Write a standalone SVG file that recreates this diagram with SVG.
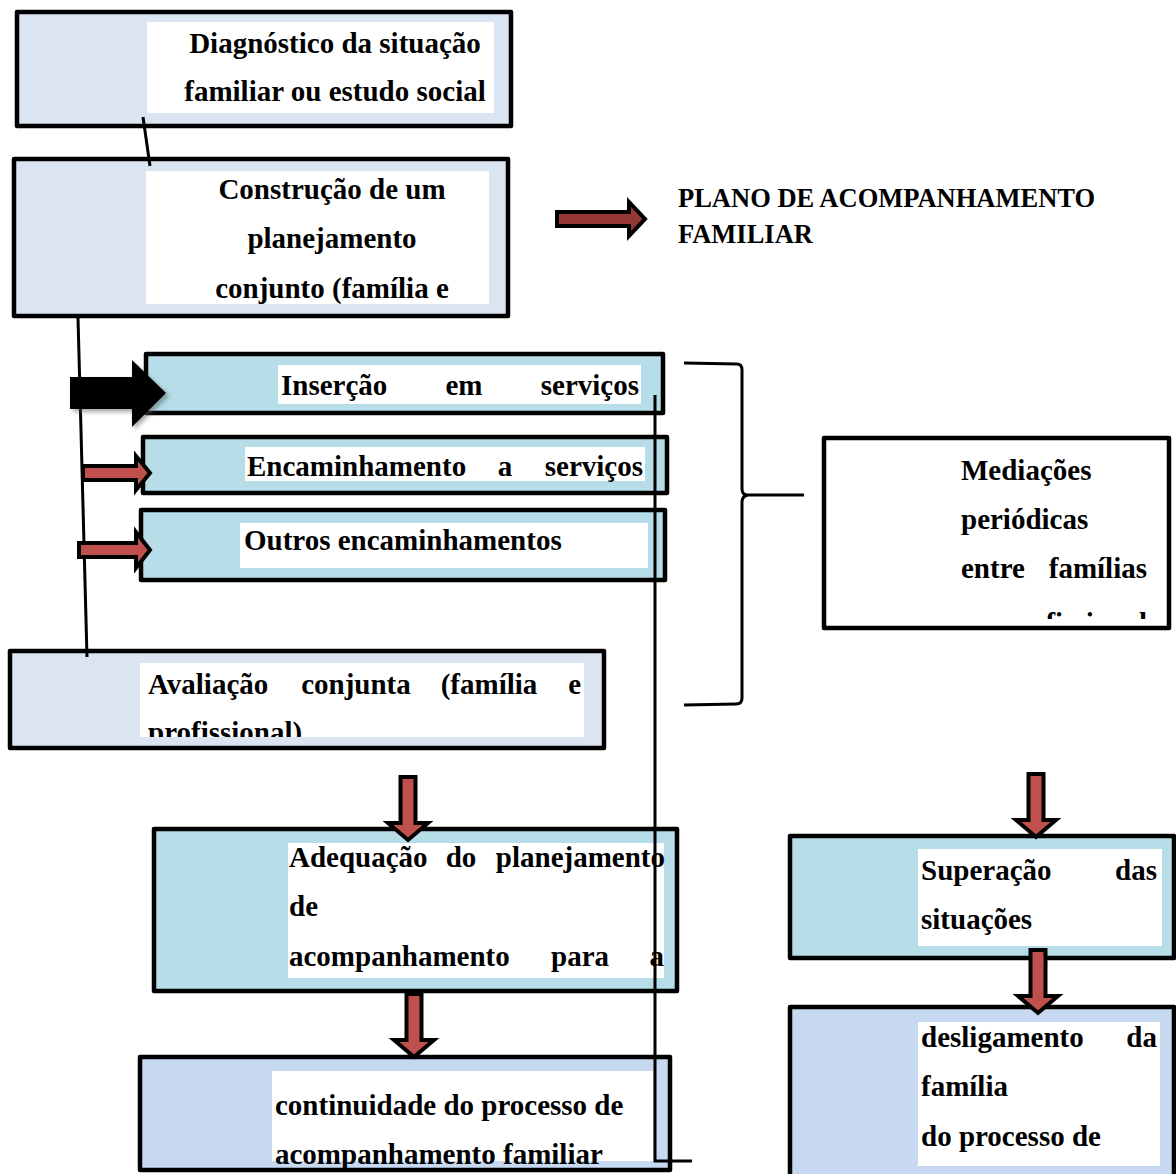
<svg xmlns="http://www.w3.org/2000/svg" width="1176" height="1174" viewBox="0 0 1176 1174">
<style>
.box{stroke:#000;stroke-width:4.5;stroke-linejoin:round}
.grey{fill:#dbe5f1}
.cyan{fill:#b6dde8}
.blue{fill:#c6d9f1}
.wh{fill:#fff}
.t{font-family:"Liberation Serif","Times New Roman",serif;font-weight:bold;font-size:29px;fill:#000}
.ln{stroke:#000;stroke-width:3;fill:none}
.ra{fill:#c0504d;stroke:#000;stroke-width:4;stroke-linejoin:miter}
</style>
<defs>
<filter id="sh" x="-20%" y="-20%" width="140%" height="140%"><feGaussianBlur stdDeviation="2"/></filter>
<clipPath id="cAv"><rect x="140" y="663" width="444" height="74"/></clipPath>
<clipPath id="cMed"><rect x="830" y="444" width="335" height="175"/></clipPath>
<path id="down" d="M-7.5,0 L7.5,0 L7.5,46 L20,46 L0,63 L-20,46 L-7.5,46 Z"/>
</defs>

<g id="n-diagnostico">
<rect class="box grey" x="17" y="12" width="494" height="114"/>
<rect class="wh" x="147" y="22" width="347" height="91"/>
<text class="t" x="335" y="53" text-anchor="middle">Diagnóstico da situação</text>
<text class="t" x="335" y="101" text-anchor="middle">familiar ou estudo social</text>
</g>

<g id="n-construcao">
<rect class="box grey" x="14" y="159" width="494" height="157"/>
<rect class="wh" x="146" y="171" width="343" height="133"/>
<text class="t" x="332" y="199" text-anchor="middle">Construção de um</text>
<text class="t" x="332" y="248" text-anchor="middle">planejamento</text>
<text class="t" x="332" y="298" text-anchor="middle">conjunto (família e</text>
</g>

<g id="n-plano">
<text class="t" style="font-size:26.5px" x="678" y="207">PLANO DE ACOMPANHAMENTO</text>
<text class="t" style="font-size:26.5px" x="678" y="243">FAMILIAR</text>
</g>

<g id="n-insercao">
<rect class="box cyan" x="146" y="354" width="517" height="59"/>
<rect class="wh" x="278" y="365" width="363" height="39"/>
<text class="t" y="395"><tspan x="281">Inserção</tspan><tspan x="464" text-anchor="middle">em</tspan><tspan x="639" text-anchor="end">serviços</tspan></text>
</g>

<g id="n-encaminhamento">
<rect class="box cyan" x="143" y="437" width="524" height="56"/>
<rect class="wh" x="245" y="447" width="400" height="34"/>
<text class="t" y="476"><tspan x="247">Encaminhamento</tspan><tspan x="505" text-anchor="middle">a</tspan><tspan x="643" text-anchor="end">serviços</tspan></text>
</g>

<g id="n-outros">
<rect class="box cyan" x="141" y="510" width="524" height="70"/>
<rect class="wh" x="240" y="523" width="408" height="45"/>
<text class="t" x="244" y="550">Outros encaminhamentos</text>
</g>

<g id="n-avaliacao">
<rect class="box grey" x="10" y="651" width="594" height="97"/>
<rect class="wh" x="140" y="663" width="444" height="74"/>
<g clip-path="url(#cAv)">
<text class="t" y="694"><tspan x="148">Avaliação</tspan><tspan x="356" text-anchor="middle">conjunta</tspan><tspan x="489" text-anchor="middle">(família</tspan><tspan x="581" text-anchor="end">e</tspan></text>
<text class="t" x="148" y="742">profissional)</text>
</g>
</g>

<g id="n-mediacoes">
<rect class="box wh" x="824" y="438" width="345" height="190"/>
<g clip-path="url(#cMed)">
<text class="t" x="961" y="480">Mediações</text>
<text class="t" x="961" y="529">periódicas</text>
<text class="t" y="578"><tspan x="961">entre</tspan><tspan x="1147" text-anchor="end">famílias</tspan></text>
<text class="t" y="633"><tspan x="961">e</tspan><tspan x="1147" text-anchor="end">profissional</tspan></text>
</g>
</g>

<g id="n-adequacao">
<rect class="box cyan" x="154" y="829" width="523" height="162"/>
<rect class="wh" x="288" y="843" width="376" height="135"/>
<text class="t" y="867"><tspan x="289">Adequação</tspan><tspan x="461" text-anchor="middle">do</tspan><tspan x="665" text-anchor="end">planejamento</tspan></text>
<text class="t" x="289" y="916">de</text>
<text class="t" y="966"><tspan x="289">acompanhamento</tspan><tspan x="580" text-anchor="middle">para</tspan><tspan x="664" text-anchor="end">a</tspan></text>
</g>

<g id="n-continuidade">
<rect class="box blue" x="140" y="1057" width="530" height="113"/>
<rect class="wh" x="272" y="1071" width="381" height="90"/>
<text class="t" x="275" y="1115">continuidade do processo de</text>
<text class="t" x="275" y="1164">acompanhamento familiar</text>
</g>

<g id="n-superacao">
<rect class="box cyan" x="790" y="836" width="384" height="122"/>
<rect class="wh" x="918" y="849" width="244" height="97"/>
<text class="t" y="880"><tspan x="921">Superação</tspan><tspan x="1157" text-anchor="end">das</tspan></text>
<text class="t" x="921" y="929">situações</text>
</g>

<g id="n-desligamento">
<rect class="box blue" x="790" y="1007" width="384" height="180"/>
<rect class="wh" x="918" y="1022" width="242" height="144"/>
<text class="t" y="1047"><tspan x="921">desligamento</tspan><tspan x="1157" text-anchor="end">da</tspan></text>
<text class="t" x="921" y="1096">família</text>
<text class="t" x="921" y="1146">do processo de</text>
</g>

<g id="connectors">
<line class="ln" x1="143" y1="117" x2="150" y2="166"/>
<line class="ln" x1="78" y1="318" x2="87" y2="657"/>
<polyline class="ln" points="655,395 655,1161 692,1161"/>
<path class="ln" stroke-width="2" d="M684,363 L737,364 Q742,364 742,370 L742,489 Q742,495 748,495 L804,495 M748,495 Q742,496 742,502 L742,698 Q742,704 736,704 L684,705"/>
<polygon class="ra" style="fill:#953734" points="557,212 629,212 629,202 645,219 629,236 629,226 557,226"/>
<polygon points="73,380 134,380 134,363 169,396 134,430 134,412 73,412" fill="#555" opacity="0.5" filter="url(#sh)"/>
<polygon points="70,377 132,377 132,360 166,393 132,427 132,409 70,409" fill="#000"/>
<polygon class="ra" points="83,466 136,466 136,456 150,473 136,490 136,480 83,480"/>
<polygon class="ra" points="79,543 136,543 136,532 150,550 136,568 136,557 79,557"/>
<use class="ra" href="#down" transform="translate(408,777)"/>
<use class="ra" href="#down" transform="translate(414,994)"/>
<use class="ra" href="#down" transform="translate(1036,774)"/>
<use class="ra" href="#down" transform="translate(1038,950)"/>
</g>
</svg>
